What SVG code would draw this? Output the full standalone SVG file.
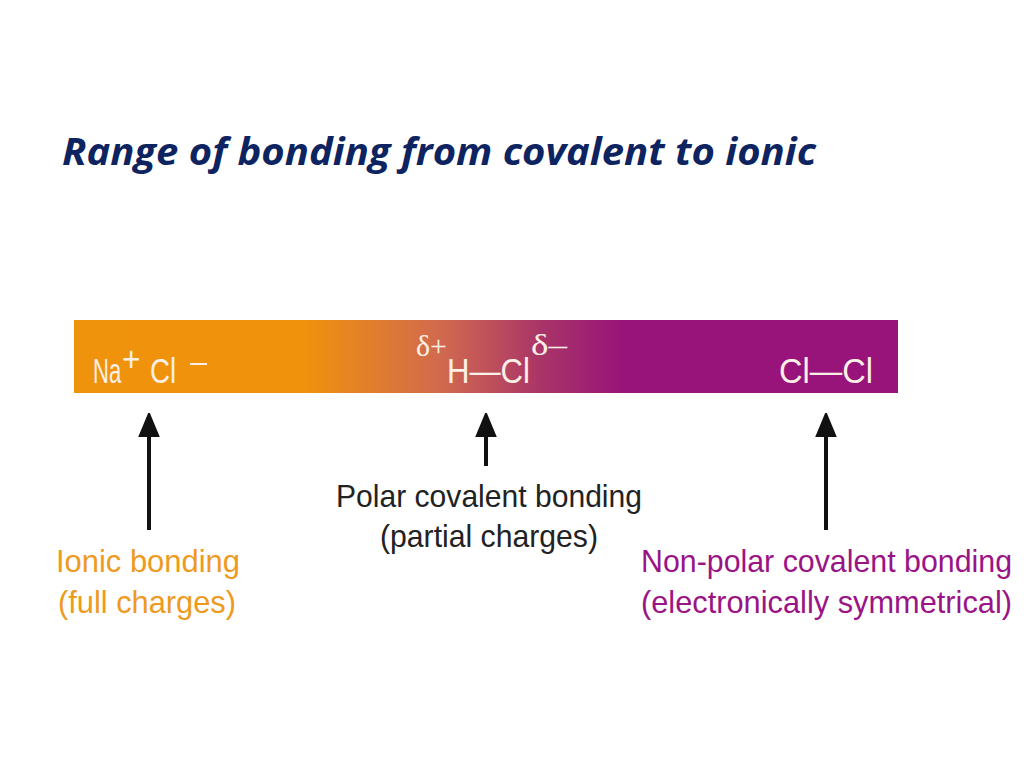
<svg xmlns="http://www.w3.org/2000/svg" width="1024" height="768" viewBox="0 0 1024 768">
<style>
.title{font-family:"Open Sans","Liberation Sans",sans-serif;font-weight:bold;font-style:italic;font-size:38px;fill:#0D2460}
.lbl{font-family:"Liberation Sans","DejaVu Sans",sans-serif;font-size:32px}
.bar{font-family:"Liberation Sans","DejaVu Sans",sans-serif;font-size:35px;fill:#FBEFE6}
.sup{font-family:"Liberation Serif","DejaVu Serif",serif;font-size:30px;fill:#FBEFE6}
.dark{fill:#222222}
.org{fill:#EE9A1E}
.pur{fill:#9A1486}
.arrow{stroke:#111;stroke-width:4;fill:none}
</style>
<defs>
<linearGradient id="grad" x1="74" y1="0" x2="898" y2="0" gradientUnits="userSpaceOnUse">
<stop offset="0" stop-color="#F0930C"/>
<stop offset="0.28" stop-color="#F0920C"/>
<stop offset="0.45" stop-color="#D06850"/>
<stop offset="0.57" stop-color="#A83368"/>
<stop offset="0.67" stop-color="#98137A"/>
<stop offset="1" stop-color="#98137A"/>
</linearGradient>
<marker id="ah" markerWidth="6" markerHeight="6" refX="0" refY="3" orient="auto" markerUnits="strokeWidth">
<path d="M0,0.3 L6.5,3 L0,5.7 Z" fill="#111"/>
</marker>
</defs>
<rect width="1024" height="768" fill="#FFFFFF"/>
<text class="title" x="62" y="165" textLength="754" lengthAdjust="spacingAndGlyphs">Range of bonding from covalent to ionic</text>

<g id="bar">
<rect x="74" y="320" width="824" height="73" fill="url(#grad)"/>
<text class="bar" transform="translate(93,383) scale(0.63,1)">Na</text>
<text class="bar" font-size="28" transform="translate(122,371) scale(0.9,1)">+</text>
<text class="bar" transform="translate(150,383) scale(0.79,1)">Cl</text>
<rect x="190" y="363" width="17" height="2" fill="#FBEFE6"/>
<text class="sup" x="416" y="356" textLength="31" lengthAdjust="spacingAndGlyphs">δ+</text>
<text class="bar" x="447" y="383" textLength="83" lengthAdjust="spacingAndGlyphs">H—Cl</text>
<text class="sup" x="531" y="355" textLength="36" lengthAdjust="spacingAndGlyphs">δ–</text>
<text class="bar" x="779" y="383" textLength="94" lengthAdjust="spacingAndGlyphs">Cl—Cl</text>
</g>

<g id="connectors">
<line class="arrow" x1="149" y1="530" x2="149" y2="437" marker-end="url(#ah)"/>
<line class="arrow" x1="486" y1="466" x2="486" y2="437" marker-end="url(#ah)"/>
<line class="arrow" x1="826" y1="530" x2="826" y2="437" marker-end="url(#ah)"/>
</g>

<g id="ionic">
<text class="lbl org" x="56" y="572" textLength="184" lengthAdjust="spacingAndGlyphs">Ionic bonding</text>
<text class="lbl org" x="58" y="613" textLength="178" lengthAdjust="spacingAndGlyphs">(full charges)</text>
</g>
<g id="polar">
<text class="lbl dark" x="336" y="507" textLength="306" lengthAdjust="spacingAndGlyphs">Polar covalent bonding</text>
<text class="lbl dark" x="380" y="547" textLength="218" lengthAdjust="spacingAndGlyphs">(partial charges)</text>
</g>
<g id="nonpolar">
<text class="lbl pur" transform="translate(641,572) scale(0.949,1)" textLength="391" lengthAdjust="spacingAndGlyphs">Non-polar covalent bonding</text>
<text class="lbl pur" transform="translate(641,613) scale(0.949,1)" textLength="391" lengthAdjust="spacingAndGlyphs">(electronically symmetrical)</text>
</g>
</svg>
